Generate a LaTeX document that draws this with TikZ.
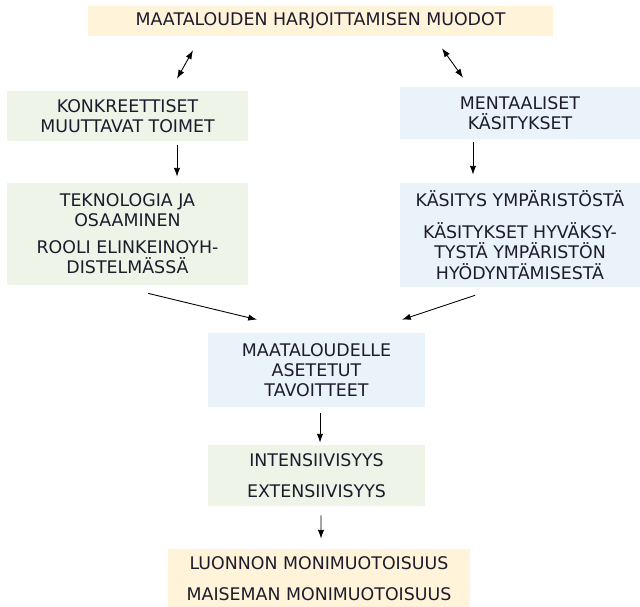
\documentclass[tikz,border=0pt]{standalone}
\usepackage{fontspec}
\setmainfont{DejaVu Sans}
\usetikzlibrary{arrows.meta,calc}
\definecolor{creambox}{RGB}{255,243,218}
\definecolor{greenbox}{RGB}{238,245,232}
\definecolor{bluebox}{RGB}{234,242,250}
\definecolor{darktext}{RGB}{28,28,44}
\begin{document}
\begin{tikzpicture}[x=0.02cm,y=-0.02cm,
    box/.style={inner sep=0pt,align=center,text=darktext,
        font=\fontsize{9.9}{11.4}\selectfont},
    cream/.style={box,fill=creambox},
    green/.style={box,fill=greenbox},
    blue/.style={box,fill=bluebox},
    arr/.style={-{Latex[length=5pt,width=3.6pt]},line width=0.5pt},
    darr/.style={{Latex[length=5pt,width=3.6pt]}-{Latex[length=5pt,width=3.6pt]},line width=0.5pt}]
    \useasboundingbox (0,0) rectangle (640,607);
    \node[cream,minimum width=9.3cm,minimum height=0.6cm] (muodot) at (320.5,21) {MAATALOUDEN HARJOITTAMISEN MUODOT};
    \node[green,minimum width=4.82cm,minimum height=1.0cm] (konk) at (127.5,116) {KONKREETTISET\\MUUTTAVAT TOIMET};
    \node[green,minimum width=4.82cm,minimum height=2.04cm] (tekno) at (127.5,234) {TEKNOLOGIA JA\\OSAAMINEN\\[4pt]ROOLI ELINKEINOYH-\\DISTELMÄSSÄ};
    \node[blue,minimum width=4.8cm,minimum height=1.04cm] (ment) at (520,113) {MENTAALISET\\KÄSITYKSET};
    \node[blue,minimum width=4.8cm,minimum height=2.08cm] (kasit) at (520,235) {KÄSITYS YMPÄRISTÖSTÄ\\[7pt]KÄSITYKSET HYVÄKSY-\\TYSTÄ YMPÄRISTÖN\\HYÖDYNTÄMISESTÄ};
    \node[blue,minimum width=4.34cm,minimum height=1.48cm] (tavoit) at (316.5,370) {MAATALOUDELLE\\ASETETUT\\TAVOITTEET};
    \node[green,minimum width=4.34cm,minimum height=1.22cm] (inten) at (316.5,475.5) {INTENSIIVISYYS\\[6pt]EXTENSIIVISYYS};
    \node[cream,minimum width=6.04cm,minimum height=1.18cm] (luonto) at (319,578.5) {LUONNON MONIMUOTOISUUS\\[6pt]MAISEMAN MONIMUOTOISUUS};

    \draw[darr] ($(muodot.south)+(-127.5,14)$) -- ($(konk.north)+(49.5,-12)$);
    \draw[darr] ($(muodot.south)+(121.5,12)$) -- ($(ment.north)+(-57,-9)$);
    \draw[arr] ($(konk.south)+(49.5,4)$) -- ($(tekno.north)+(49.5,-6)$);
    \draw[arr] ($(ment.south)+(-47,3)$) -- ($(kasit.north)+(-47,-8)$);
    \draw[arr] ($(tekno.south)+(20.5,8)$) -- ($(tavoit.north)+(-59.5,-13)$);
    \draw[arr] ($(kasit.south)+(-45,8)$) -- ($(tavoit.north)+(85.5,-13)$);
    \draw[arr] ($(tavoit.south)+(3.5,6)$) -- ($(inten.north)+(3.5,-2)$);
    \draw[arr] ($(inten.south)+(4.5,9)$) -- ($(luonto.north)+(2,-10)$);
\end{tikzpicture}
\end{document}
